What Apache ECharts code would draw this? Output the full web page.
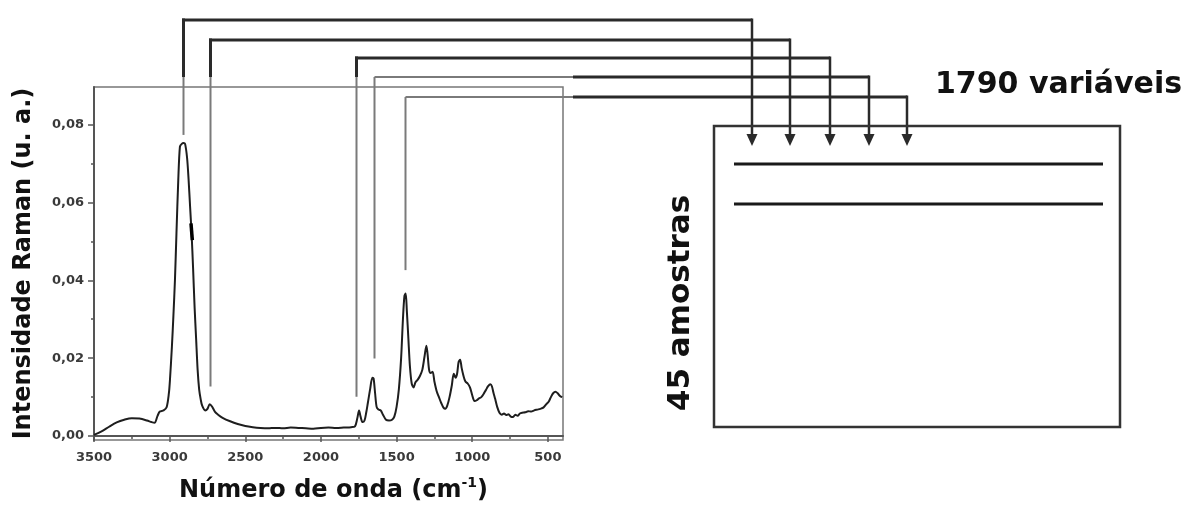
<!DOCTYPE html>
<html><head><meta charset="utf-8">
<script src="https://cdn.jsdelivr.net/npm/echarts@6/dist/echarts.min.js"></script>
<style>html,body{margin:0;padding:0;background:#fff}#c{width:1184px;height:506px}</style>
</head><body><div id="c"></div>
<script>
// ---- data ----
const wavenumbers = [3500,3450,3400,3350,3300,3250,3200,3150,3120,3100,3080,3065,3040,3020,3005,2998,2985,2975,2965,2955,2943,2932,2920,2908,2898,2885,2875,2865,2855,2845,2835,2825,2815,2805,2795,2785,2765,2750,2735,2720,2700,2680,2650,2600,2550,2500,2450,2400,2350,2300,2250,2200,2150,2100,2050,2000,1950,1900,1850,1800,1775,1760,1748,1738,1725,1712,1700,1690,1675,1660,1652,1642,1632,1620,1605,1590,1570,1550,1530,1515,1500,1485,1470,1458,1448,1440,1432,1422,1412,1400,1388,1375,1360,1345,1330,1315,1303,1295,1285,1275,1262,1250,1235,1220,1205,1190,1178,1165,1150,1135,1122,1110,1100,1090,1080,1070,1058,1045,1030,1015,1000,985,970,955,940,925,910,895,880,870,860,848,835,820,805,790,775,760,745,730,715,700,685,670,650,630,610,590,570,550,530,510,495,480,465,450,435,420,405];
const intensity = [0.0003,0.0012,0.0024,0.0035,0.0042,0.0046,0.0045,0.0040,0.0036,0.0034,0.0052,0.0063,0.0066,0.0074,0.0110,0.0144,0.0230,0.0310,0.0400,0.0520,0.0657,0.0743,0.0750,0.0752,0.0750,0.0715,0.0660,0.0590,0.0520,0.0430,0.0330,0.0250,0.0170,0.0120,0.0095,0.0078,0.0066,0.0070,0.0082,0.0076,0.0062,0.0055,0.0047,0.0038,0.0031,0.0026,0.0023,0.0021,0.0020,0.0021,0.0020,0.0022,0.0021,0.0020,0.0019,0.0021,0.0022,0.0021,0.0022,0.0023,0.0025,0.0045,0.0066,0.0050,0.0036,0.0040,0.0062,0.0085,0.0120,0.0150,0.0148,0.0110,0.0075,0.0068,0.0066,0.0055,0.0042,0.0040,0.0042,0.0050,0.0075,0.0120,0.0200,0.0300,0.0360,0.0366,0.0320,0.0250,0.0180,0.0135,0.0125,0.0138,0.0145,0.0155,0.0170,0.0205,0.0232,0.0210,0.0170,0.0162,0.0165,0.0140,0.0115,0.0100,0.0085,0.0073,0.0070,0.0078,0.0100,0.0130,0.0160,0.0150,0.0160,0.0190,0.0196,0.0175,0.0155,0.0140,0.0135,0.0125,0.0105,0.0090,0.0092,0.0097,0.0100,0.0108,0.0118,0.0128,0.0133,0.0128,0.0112,0.0095,0.0075,0.0060,0.0055,0.0058,0.0054,0.0056,0.0050,0.0049,0.0055,0.0052,0.0058,0.0060,0.0061,0.0064,0.0063,0.0066,0.0068,0.0070,0.0073,0.0082,0.0088,0.0100,0.0110,0.0114,0.0110,0.0103,0.0100];
const glitchWn = [2859, 2850];
const glitchVal = [0.0546, 0.0503];
const yTickValues = [0, 0.02, 0.04, 0.06, 0.08];
const yMinorValues = [0.01, 0.03, 0.05, 0.07];
const xTickValues = [3500, 3000, 2500, 2000, 1500, 1000, 500];
const xMinorValues = [3250, 2750, 2250, 1750, 1250, 750];
const markerWn = [2915, 2730, 1770, 1650, 1445];
const markerEnd = [0.0773, 0.0127, 0.0101, 0.0199, 0.0426];
const xTitle = 'Número de onda (cm{sup|-1})';
const yTitle = 'Intensidade Raman (u. a.)';
const matrixTopLabel = '1790 variáveis';
const matrixSideLabel = '45 amostras';

// ---- chart ----
const FONT = '"DejaVu Sans", sans-serif';
const chart = echarts.init(document.getElementById('c'), null, {renderer: 'canvas'});
const fmtY = v => v.toFixed(2).replace('.', ',');
const fmtX = v => String(Math.round(v));
const axisCommon = {
  min: 400, max: 3500, inverse: true, type: 'value', position: 'bottom'
};
chart.setOption({
  animation: false,
  backgroundColor: '#fff',
  grid: {left: 94, right: 621, top: 87, bottom: 66, containLabel: false, outerBoundsMode: 'none',
    show: true, borderColor: '#777', borderWidth: 1.5},
  xAxis: [
    Object.assign({}, axisCommon, {
      name: xTitle, nameLocation: 'middle', nameGap: 36,
      nameTextStyle: {fontFamily: FONT, fontWeight: 'bold', fontSize: 24, color: '#111', lineHeight: 30, padding: [0, 0, 0, 10],
        rich: {sup: {fontFamily: FONT, fontWeight: 'bold', fontSize: 14, color: '#111', verticalAlign: 'top', lineHeight: 14}}},
      axisLine: {show: true, lineStyle: {color: '#555', width: 2}},
      axisTick: {show: true, length: 6, customValues: xTickValues, lineStyle: {color: '#555', width: 1.5}},
      axisLabel: {show: true, customValues: xTickValues, formatter: fmtX, margin: 11, fontFamily: FONT, fontWeight: 'bold', fontSize: 13, color: '#3a3a3a'},
      splitLine: {show: false}
    }),
    Object.assign({}, axisCommon, {
      axisLine: {show: false},
      axisTick: {show: true, length: 3, customValues: xMinorValues, lineStyle: {color: '#555', width: 1.5}},
      axisLabel: {show: false}, splitLine: {show: false}
    })
  ],
  yAxis: [
    {
      type: 'value', min: -0.001, max: 0.0896, position: 'left',
      name: yTitle, nameLocation: 'middle', nameGap: 58,
      nameTextStyle: {fontFamily: FONT, fontWeight: 'bold', fontSize: 24, color: '#111'},
      axisLine: {show: true, lineStyle: {color: '#555', width: 2}},
      axisTick: {show: true, length: 6, customValues: yTickValues, lineStyle: {color: '#555', width: 1.5}},
      axisLabel: {show: true, customValues: yTickValues, margin: 10, formatter: fmtY, fontFamily: FONT, fontWeight: 'bold', fontSize: 13, color: '#3a3a3a'},
      splitLine: {show: false}
    },
    {
      type: 'value', min: -0.001, max: 0.0896, position: 'left',
      axisLine: {show: false},
      axisTick: {show: true, length: 3, customValues: yMinorValues, lineStyle: {color: '#555', width: 1.5}},
      axisLabel: {show: false}, splitLine: {show: false}
    }
  ],
  series: [
    {
      type: 'line', name: 'Espectro Raman', xAxisIndex: 0, yAxisIndex: 0,
      data: wavenumbers.map((w, i) => [w, intensity[i]]),
      showSymbol: false, smooth: 0.3,
      lineStyle: {color: '#1e1e1e', width: 2}
    },
    {
      type: 'line', name: 'marca', xAxisIndex: 0, yAxisIndex: 0,
      data: glitchWn.map((w, i) => [w, glitchVal[i]]),
      showSymbol: false, lineStyle: {color: '#000', width: 3.5}
    }
  ]
});

// ---- connectors and data matrix (annotation graphics) ----
const topY = [20, 40, 58, 77, 97];
const arrowX = [752, 790, 830, 869, 907];
const grayBottom = 77, grayRight = 573;
const DARK = '#2a2a2a', GRAY = '#7a7a7a';
const g = [];
const line = (x1, y1, x2, y2, c, w) => g.push({type: 'line', silent: true, shape: {x1, y1, x2, y2}, style: {stroke: c, lineWidth: w}});
markerWn.forEach((wn, i) => {
  const p = chart.convertToPixel({xAxisIndex: 0, yAxisIndex: 0}, [wn, markerEnd[i]]);
  const x0 = Math.round(p[0]) + 0.5, yEnd = p[1];
  const ty = topY[i];
  if (ty < grayBottom - 1) {
    line(x0, ty - 1.5, x0, grayBottom, DARK, 3);
    line(x0, grayBottom, x0, yEnd, GRAY, 2);
    line(x0 - 1.5, ty, arrowX[i], ty, DARK, 3);
  } else {
    line(x0, ty, x0, yEnd, GRAY, 2);
    line(x0, ty, grayRight, ty, GRAY, 2);
    line(grayRight, ty, arrowX[i], ty, DARK, 3);
  }
  line(arrowX[i], ty - 1.5, arrowX[i], 137, DARK, 2.5);
  g.push({type: 'polygon', silent: true, shape: {points: [[arrowX[i] - 5.5, 134], [arrowX[i] + 5.5, 134], [arrowX[i], 146]]}, style: {fill: DARK}});
});
// matrix box
g.push({type: 'rect', silent: true, shape: {x: 714, y: 126, width: 406, height: 301}, style: {fill: 'none', stroke: '#333', lineWidth: 2.5}});
line(734, 164, 1103, 164, '#1a1a1a', 3);
line(734, 204, 1103, 204, '#1a1a1a', 3);
g.push({type: 'text', silent: true, x: 935, y: 85, style: {text: matrixTopLabel, font: 'bold 30px ' + FONT, fill: '#111', textAlign: 'left', textVerticalAlign: 'middle'}});
g.push({type: 'text', silent: true, x: 681, y: 303, rotation: Math.PI / 2, style: {text: matrixSideLabel, font: 'bold 31px ' + FONT, fill: '#111', textAlign: 'center', textVerticalAlign: 'middle'}});
chart.setOption({graphic: {elements: g}});
</script>
</body></html>
